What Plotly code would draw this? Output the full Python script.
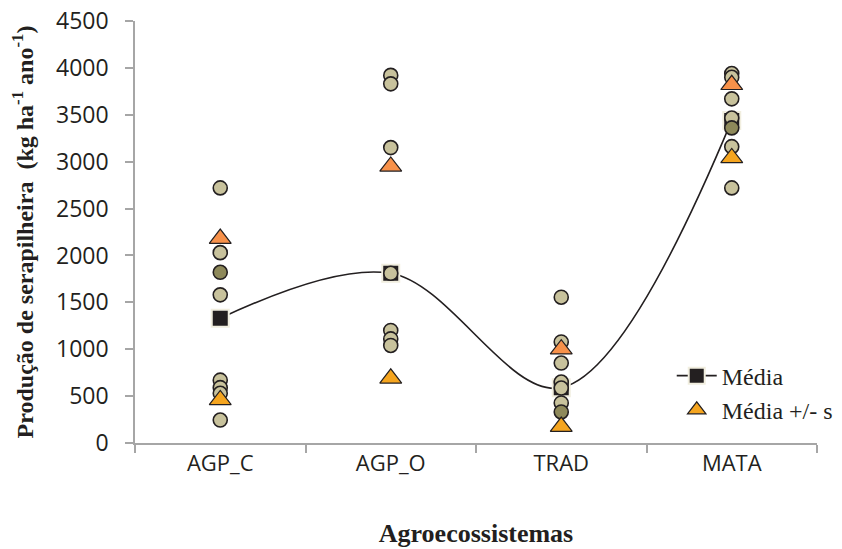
import plotly.graph_objects as go

categories = ["AGP_C", "AGP_O", "TRAD", "MATA"]

# mean of each agroecosystem
mean_values = [1330, 1810, 590, 3440]
# mean + s and mean - s
upper_values = [2180, 2950, 1000, 3820]
lower_values = [460, 690, 175, 3040]

# individual observations (tan circles)
obs_cat = (["AGP_C"] * 7 + ["AGP_O"] * 7 + ["TRAD"] * 6 + ["MATA"] * 6)
obs_val = ([2720, 2030, 1580, 670, 590, 530, 245]
           + [3920, 3830, 3150, 1810, 1200, 1110, 1040]
           + [1555, 1077, 853, 650, 586, 427]
           + [3940, 3900, 3670, 3465, 3160, 2720])
# darker observations
dark_cat = ["AGP_C", "TRAD", "MATA"]
dark_val = [1820, 331, 3360]

y_ticks = [0, 500, 1000, 1500, 2000, 2500, 3000, 3500, 4000, 4500]

serif = "Liberation Serif"
sans = "Open Sans"
ink = "#231F20"

fig = go.Figure()

fig.add_trace(go.Scatter(
    x=categories, y=mean_values, mode="lines+markers", name="Média",
    line=dict(color=ink, width=1.6, shape="spline", smoothing=1),
    marker=dict(symbol="square", size=17, color=ink,
                line=dict(color="#F1EEDF", width=2)),
))
fig.add_trace(go.Scatter(
    x=obs_cat, y=obs_val, mode="markers", showlegend=False,
    marker=dict(symbol="circle", size=14, color="#C8C29C",
                line=dict(color=ink, width=1.6)),
))
fig.add_trace(go.Scatter(
    x=dark_cat, y=dark_val, mode="markers", showlegend=False,
    marker=dict(symbol="circle", size=14, color="#8E895A",
                line=dict(color=ink, width=1.6)),
))
fig.add_trace(go.Scatter(
    x=categories, y=upper_values, mode="markers", showlegend=False,
    marker=dict(symbol="triangle-up", size=19, color="#F7914A",
                line=dict(color=ink, width=1.2)),
))
fig.add_trace(go.Scatter(
    x=categories, y=lower_values, mode="markers", name="Média +/- s",
    marker=dict(symbol="triangle-up", size=19, color="#F5A51F",
                line=dict(color=ink, width=1.2)),
))

fig.update_layout(
    width=842, height=549,
    margin=dict(l=127, r=26, t=13, b=114),
    paper_bgcolor="white", plot_bgcolor="white",
    showlegend=True,
    legend=dict(x=0.787, y=0.212, xanchor="left", yanchor="top",
                bgcolor="rgba(0,0,0,0)",
                font=dict(family=serif, size=24, color=ink),
                itemwidth=40, tracegroupgap=0),
    xaxis=dict(
        type="category", categoryorder="array", categoryarray=categories,
        range=[-0.5, 3.5], automargin=False,
        showline=True, linecolor="#A6A6A6", linewidth=1.5,
        ticks="outside", tickson="boundaries", ticklen=8,
        tickcolor="#A6A6A6", tickwidth=1.5,
        showgrid=False, zeroline=False,
        tickfont=dict(family=sans, size=22, color=ink),
        title=dict(text="<b>Agroecossistemas</b>",
                   font=dict(family=serif, size=26, color=ink), standoff=48),
    ),
    yaxis=dict(
        range=[0, 4500], tickmode="array", tickvals=y_ticks, automargin=False,
        ticklabeloverflow="allow",
        showline=True, linecolor="#A6A6A6", linewidth=1.5,
        ticks="outside", ticklen=8, tickcolor="#A6A6A6", tickwidth=1.5,
        showgrid=False, zeroline=False,
        tickfont=dict(family=sans, size=23, color=ink),
        ticklabelstandoff=12,
        title=dict(text="<b>Produção de serapilheira  (kg ha<sup>-1</sup> ano<sup>-1</sup>)</b>",
                   font=dict(family=serif, size=24, color=ink), standoff=18),
    ),
)

fig.write_html("out.html", config={"displayModeBar": False})
